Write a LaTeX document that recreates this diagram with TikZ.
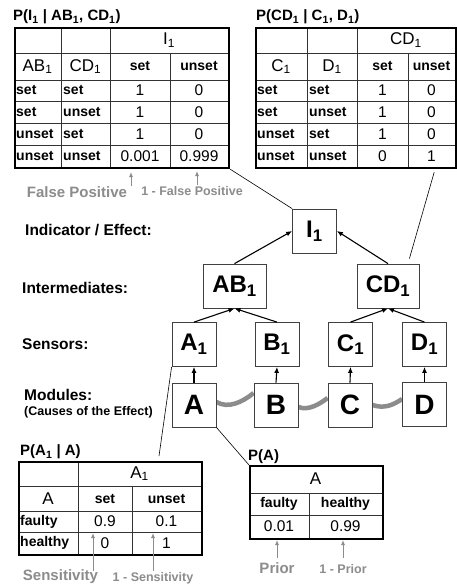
\documentclass[tikz,border=0pt]{standalone}
\usepackage{fontspec}
\setmainfont{Liberation Sans}
\usetikzlibrary{arrows.meta,calc}

\pgfdeclarelayer{paper}
\pgfdeclarelayer{ties}
\pgfsetlayers{paper,ties,main}

\newcommand{\lo}[1]{\textsubscript{#1}}
\newcommand{\fs}[1]{\fontsize{#1}{#1}\selectfont}

\tikzset{
  box/.style={draw=black!75, line width=0.8pt, fill=white, inner sep=0pt,
    minimum width=44pt, minimum height=44pt, font=\fs{24}\bfseries},
  modbox/.style={box, font=\fs{28}\bfseries},
  dep/.style={-{Latex[length=6pt,width=5pt]}, line width=1.1pt},
  link/.style={draw=black, line width=0.6pt},
  tie/.style={draw=black!45, line width=4.5pt},
  frame/.style={draw, line width=2.2pt, inner sep=0pt, anchor=north west},
  grid/.style={draw=black!80, line width=0.7pt},
  level/.style={anchor=west, font=\fs{15.5}\bfseries, inner sep=0pt},
  title/.style={anchor=west, font=\fs{15}\bfseries, inner sep=0pt},
  hd/.style={font=\fs{17}, inner sep=0pt},
  st/.style={font=\fs{14}\bfseries, inner sep=0pt},
  stl/.style={st, anchor=west},
  num/.style={font=\fs{15.5}, inner sep=0pt},
  note/.style={text=black!45, font=\fs{15}\bfseries, inner sep=0pt},
  smallnote/.style={text=black!45, font=\fs{12.5}\bfseries, inner sep=0pt},
  hint/.style={-{Latex[length=5pt,width=4pt]}, draw=black!45, line width=1pt},
}

\begin{document}
\begin{tikzpicture}[x=1pt,y=-1pt]
\useasboundingbox (0,0) rectangle (457,588);
\begin{pgfonlayer}{paper}
  \fill[white] (0,0) rectangle (457,588);
\end{pgfonlayer}

% ---------- P(I1 | AB1, CD1) ----------
\node[title] (tIt) at (13,17) {P(I\lo{1} | AB\lo{1}, CD\lo{1})};
\draw[grid] (61,27) -- (61,167) (110,27) -- (110,167) (170,53) -- (170,167);
\foreach \y in {53,80,101,123,145} \draw[grid] (14,\y) -- (228,\y);
\node[frame, minimum width=214pt, minimum height=140pt] (tI) at (14,27) {};
\node[hd] (tI-h) at (169,40) {I\lo{1}};
\node[hd] (tI-a) at (37.5,66.5) {AB\lo{1}};
\node[hd] (tI-b) at (85.5,66.5) {CD\lo{1}};
\node[st] (tI-s) at (140,66.5) {set};
\node[st] (tI-u) at (199,66.5) {unset};
\foreach \y/\p/\q/\m/\n [count=\i] in
  {90.5/set/set/1/0, 112/set/unset/1/0, 134/unset/set/1/0, 156/unset/unset/0.001/0.999} {
  \node[stl] (tI-p\i) at (16,\y) {\p};
  \node[stl] (tI-q\i) at (63,\y) {\q};
  \node[num] (tI-m\i) at (140,\y) {\m};
  \node[num] (tI-n\i) at (199,\y) {\n};
}

% ---------- P(CD1 | C1, D1) ----------
\node[title] (tCDt) at (256,17) {P(CD\lo{1} | C\lo{1}, D\lo{1})};
\draw[grid] (307,27) -- (307,167) (357,27) -- (357,167) (408,53) -- (408,167);
\foreach \y in {53,80,101,123,145} \draw[grid] (255,\y) -- (455,\y);
\node[frame, minimum width=200pt, minimum height=140pt] (tCD) at (255,27) {};
\node[hd] (tCD-h) at (406,40) {CD\lo{1}};
\node[hd] (tCD-a) at (281,66.5) {C\lo{1}};
\node[hd] (tCD-b) at (332,66.5) {D\lo{1}};
\node[st] (tCD-s) at (382.5,66.5) {set};
\node[st] (tCD-u) at (431.5,66.5) {unset};
\foreach \y/\p/\q/\m/\n [count=\i] in
  {90.5/set/set/1/0, 112/set/unset/1/0, 134/unset/set/1/0, 156/unset/unset/0/1} {
  \node[stl] (tCD-p\i) at (257,\y) {\p};
  \node[stl] (tCD-q\i) at (309,\y) {\q};
  \node[num] (tCD-m\i) at (382.5,\y) {\m};
  \node[num] (tCD-n\i) at (431.5,\y) {\n};
}

% ---------- level captions ----------
\node[level] (lvI) at (25,230) {Indicator / Effect:};
\node[level] (lvM) at (22,288) {Intermediates:};
\node[level] (lvS) at (22,344) {Sensors:};
\node[level] (lvC) at (24,395) {Modules:};
\node[anchor=west, font=\fs{12.5}\bfseries, inner sep=0pt] (lvCx) at (24,412) {(Causes of the Effect)};

% ---------- network ----------
\node[box] (I1) at (314.5,231) {I\lo{1}};
\node[box, minimum width=63pt] (AB1) at (234.5,286) {AB\lo{1}};
\node[box, minimum width=62pt] (CD1) at (388,286) {CD\lo{1}};
\node[box] (A1) at (194,344.5) {A\lo{1}};
\node[box] (B1) at (277,344.5) {B\lo{1}};
\node[box] (C1) at (350.5,344.5) {C\lo{1}};
\node[box] (D1) at (424.5,344.5) {D\lo{1}};
\node[modbox] (A) at (194,405) {A};
\node[modbox] (B) at (276,405) {B};
\node[modbox] (C) at (350,405) {C};
\node[modbox] (D) at (424.5,404.5) {D};

\draw[dep] (AB1.north) -- (I1.west);
\draw[dep] (CD1.north) -- (I1.east);
\draw[dep] (A1.north) -- (AB1.south);
\draw[dep] (B1.north) -- (AB1.south);
\draw[dep] (C1.north) -- (CD1.south);
\draw[dep] (D1.north) -- (CD1.south);
\foreach \m in {A,B,C,D} \draw[dep] (\m.north) -- (\m1.south);

% shared-cause ties between the modules
\begin{pgfonlayer}{ties}
  \draw[tie] ($(A.east)+(0,-3)$) .. controls +(12,7) and +(-11,9) .. ($(B.west)+(0,-12)$);
  \draw[tie] ($(B.east)+(0,2)$) .. controls +(10,4) and +(-8,6) .. ($(C.west)+(0,-7)$);
  \draw[tie] (C.east) .. controls +(12,4) and +(-9,6) .. ($(D.west)+(0,-5.5)$);
\end{pgfonlayer}

% ---------- P(A1 | A) ----------
\node[title] (tA1t) at (20,452) {P(A\lo{1} | A)};
\draw[grid] (78,461) -- (78,554) (132,486) -- (132,554);
\foreach \y in {486,511,532} \draw[grid] (18,\y) -- (201,\y);
\node[frame, minimum width=183pt, minimum height=93pt] (tA1) at (18,461) {};
\node[hd] (tA1-h) at (139.5,473.5) {A\lo{1}};
\node[hd] (tA1-a) at (48,498.5) {A};
\node[st] (tA1-s) at (105,498.5) {set};
\node[st] (tA1-u) at (166.5,498.5) {unset};
\node[stl] (tA1-f) at (20,521.5) {faulty};
\node[stl] (tA1-g) at (20,543) {healthy};
\node[num] (tA1-fs) at (105,521.5) {0.9};
\node[num] (tA1-fu) at (166.5,521.5) {0.1};
\node[num] (tA1-gs) at (105,543) {0};
\node[num] (tA1-gu) at (166.5,543) {1};

% ---------- P(A) ----------
\node[title] (tAt) at (248,457) {P(A)};
\draw[grid] (309,493) -- (309,538);
\foreach \y in {493,515} \draw[grid] (249,\y) -- (382,\y);
\node[frame, minimum width=133pt, minimum height=73pt] (tA) at (249,465) {};
\node[hd] (tA-h) at (315.5,479) {A};
\node[st] (tA-f) at (279,504) {faulty};
\node[st] (tA-g) at (345.5,504) {healthy};
\node[num] (tA-fv) at (279,526.5) {0.01};
\node[num] (tA-gv) at (345.5,526.5) {0.99};

% ---------- leaders from tables to variables ----------
\coordinate (cdFoot) at ($(tCD.south east)+(-23,3)$);
\coordinate (cdTip) at ($(CD1.north east)+(-10,-5)$);
\coordinate (a1Tip) at ($(tA1.north west)+(141,-5)$);
\draw[link] (tI.south east) -- (I1.north west);
\draw[link] (cdFoot) -- (cdTip);
\draw[link] (A1.south west) -- (a1Tip);
\draw[link] (A.south east) -- (tA.north west);

% ---------- annotations ----------
\node[note] (fp) at (77,192) {False Positive};
\node[smallnote] (nfp) at (192,191) {1 - False Positive};
\node[note] (sen) at (60.5,577) {Sensitivity};
\node[smallnote] (nsen) at (153,578) {1 - Sensitivity};
\node[note] (pri) at (277,568) {Prior};
\node[smallnote] (npri) at (343,569) {1 - Prior};

\coordinate (fpB) at (131,186);  \coordinate (fpT) at (131,172);
\coordinate (nfpB) at (197,185); \coordinate (nfpT) at (197,171);
\coordinate (senB) at (93,571);  \coordinate (senT) at (93,533);
\coordinate (nsenB) at (153,571); \coordinate (nsenT) at (153,533);
\coordinate (priB) at (277,558); \coordinate (priT) at (277,540);
\coordinate (npriB) at (343,558); \coordinate (npriT) at (343,540);
\draw[hint] (fpB) -- (fpT);
\draw[hint] (nfpB) -- (nfpT);
\draw[hint] (senB) -- (senT);
\draw[hint] (nsenB) -- (nsenT);
\draw[hint] (priB) -- (priT);
\draw[hint] (npriB) -- (npriT);
\end{tikzpicture}
\end{document}
